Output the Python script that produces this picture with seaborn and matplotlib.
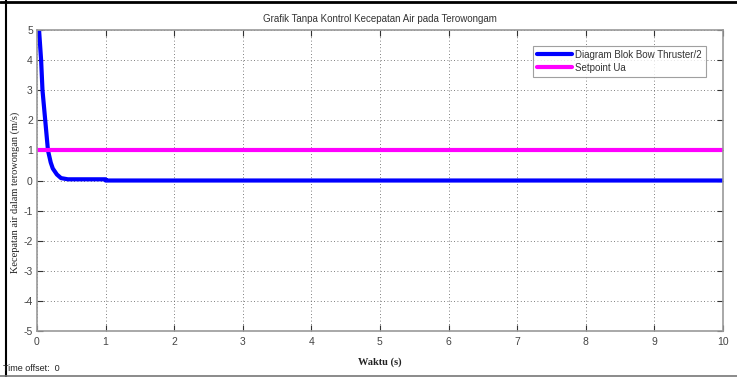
import matplotlib
matplotlib.use("Agg")
import matplotlib.pyplot as plt
from matplotlib.lines import Line2D
import seaborn as sns
import pandas as pd

# Step response of the bow thruster block (no controller)
t_response = [0.0, 0.03, 0.06, 0.08, 0.12, 0.16, 0.20, 0.23, 0.29, 0.35, 0.45, 1.0, 1.0, 10.0]
v_response = [5.6, 5.0, 4.0, 3.0, 2.0, 1.0, 0.6, 0.4, 0.2, 0.08, 0.04, 0.04, 0.0, 0.0]

# Constant setpoint
t_setpoint = [0.0, 10.0]
v_setpoint = [1.0, 1.0]

x_ticks = [0, 1, 2, 3, 4, 5, 6, 7, 8, 9, 10]
y_ticks = [-5, -4, -3, -2, -1, 0, 1, 2, 3, 4, 5]

series_names = ["Diagram Blok Bow Thruster/2", "Setpoint Ua"]
title = "Grafik Tanpa Kontrol Kecepatan Air pada Terowongam"
xlabel = "Waktu (s)"
ylabel = "Kecepatan air dalam terowongan (m/s)"

sns.set_theme(style="ticks")
plt.rcParams["font.family"] = ["Liberation Sans", "DejaVu Sans"]
plt.rcParams["axes.unicode_minus"] = False

resp = pd.DataFrame({"t": t_response, "v": v_response})
setp = pd.DataFrame({"t": t_setpoint, "v": v_setpoint})

fig = plt.figure(figsize=(7.37, 3.77), dpi=100)
ax = fig.add_axes([0.0502, 0.122, 0.9306, 0.7984])

sns.lineplot(data=resp, x="t", y="v", ax=ax, color="#0000ff", lw=3.0,
             estimator=None, sort=False, label=series_names[0])
sns.lineplot(data=setp, x="t", y="v", ax=ax, color="#ff00ff", lw=3.0,
             estimator=None, sort=False, label=series_names[1])

ax.set_xlim(0, 10)
ax.set_ylim(-5, 5)
ax.set_xticks(x_ticks)
ax.set_yticks(y_ticks)
ax.grid(True, linestyle=(0, (1, 3)), color="#555555", linewidth=0.6)
ax.tick_params(direction="in", length=4, width=0.8, color="#333333",
               top=True, right=True, labelsize=7.5, labelcolor="#444444")
ax.tick_params(axis="x", pad=4)
ax.tick_params(axis="y", pad=3)
for s in ax.spines.values():
    s.set_color("#999999")
    s.set_linewidth(1.2)

ax.set_title(title, fontsize=7, color="#333333", pad=6)
ax.set_xlabel(xlabel, fontsize=7.5, family="Liberation Serif", fontweight="bold",
              color="#222222")
ax.xaxis.set_label_coords(0.5, -0.086)
ax.set_ylabel(ylabel, fontsize=7.5, family="Liberation Serif", color="#222222")
ax.yaxis.label.set_va("center")
ax.yaxis.set_label_coords(-0.032, 0.462)

leg = ax.legend(loc="upper right", bbox_to_anchor=(0.975, 0.947), fontsize=7,
                frameon=True, fancybox=False, handlelength=3.6, handletextpad=0.3,
                borderpad=0.4, labelspacing=0.3, borderaxespad=0)
leg.get_frame().set_edgecolor("#888888")
leg.get_frame().set_linewidth(0.8)
for txt in leg.get_texts():
    txt.set_color("#333333")

fig.text(0.004, 0.016, "Time offset:  0", fontsize=6.5, color="#222222")

# Window frame lines
fig.add_artist(Line2D([0, 1], [0.994, 0.994], transform=fig.transFigure, color="black", lw=2.0))
fig.add_artist(Line2D([0.0075, 0.0075], [0, 1], transform=fig.transFigure, color="black", lw=1.5))
fig.add_artist(Line2D([0, 1], [0.003, 0.003], transform=fig.transFigure, color="#777777", lw=1.2))

fig.savefig("out.png", dpi=100)
